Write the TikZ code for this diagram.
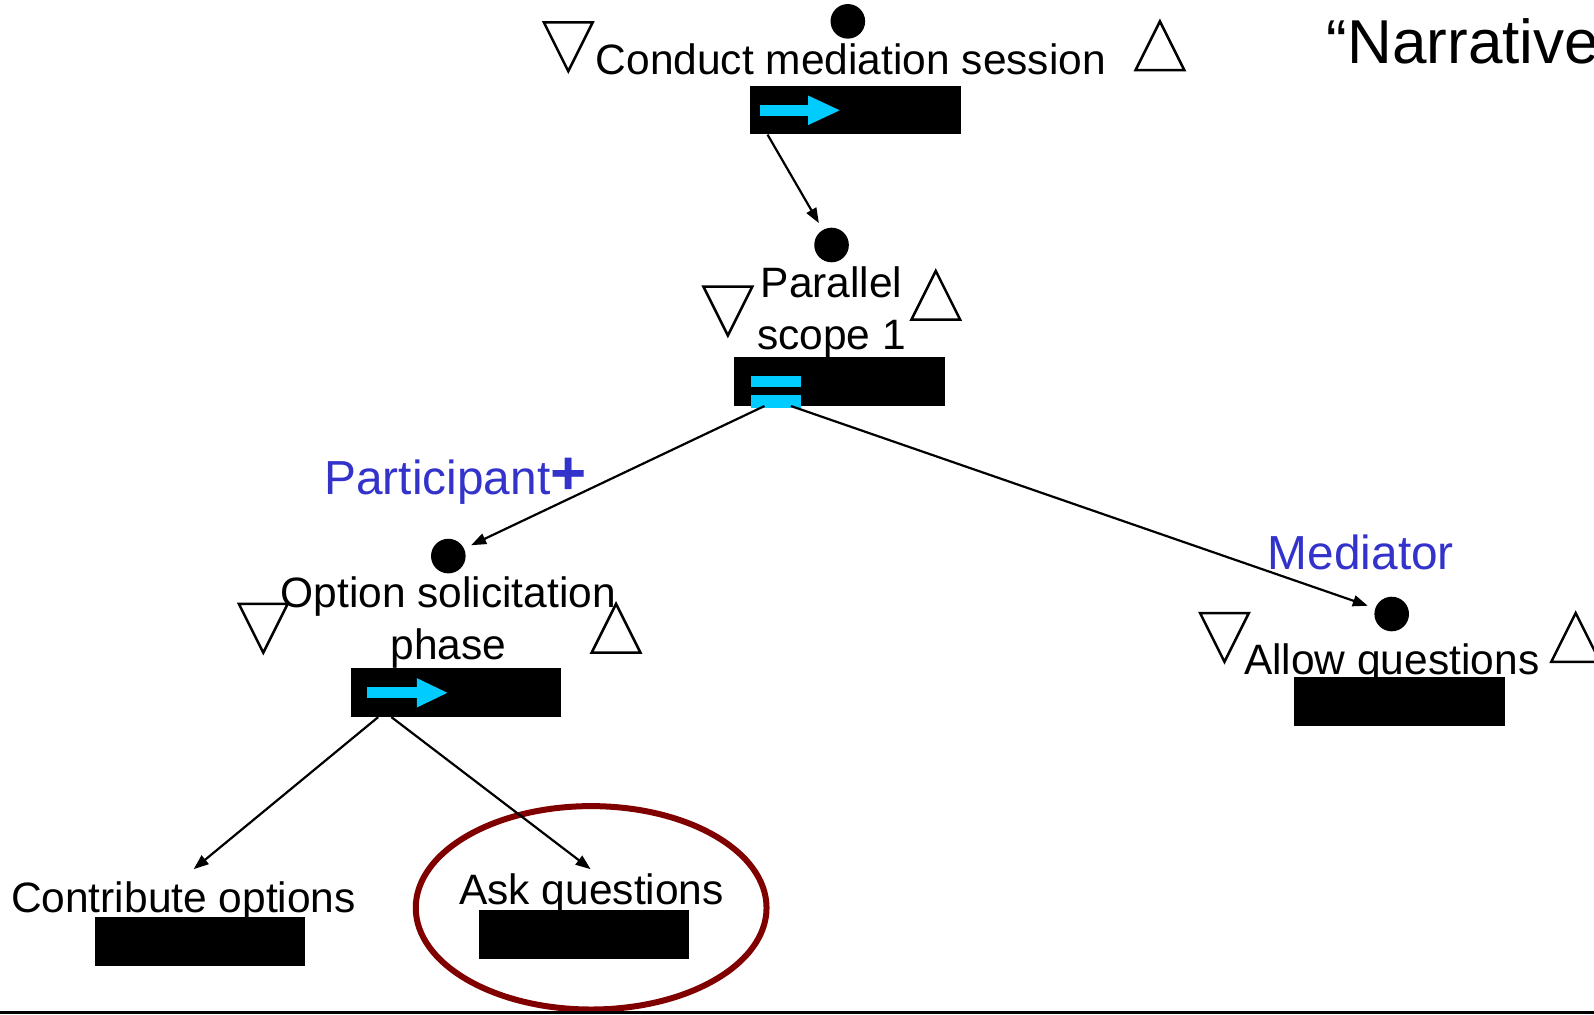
\documentclass[tikz,border=0pt]{standalone}
\usepackage{fontspec}
\setmainfont{Liberation Sans}
\usetikzlibrary{arrows.meta,calc}
\definecolor{rolecol}{RGB}{51,51,204}
\definecolor{markcol}{RGB}{0,204,255}
\definecolor{ringcol}{RGB}{128,0,0}

\tikzset{
  lbl/.style={inner sep=0pt, font=\fontsize{42.5}{51.8}\selectfont},
  role/.style={inner sep=0pt, text=rolecol, font=\fontsize{47.8}{56}\selectfont},
  dot/.style={circle, fill=black, minimum size=34.6pt, inner sep=0pt, outer sep=8pt},
  bar/.style={fill=black, anchor=north west, minimum width=210.4pt, minimum height=48.8pt, inner sep=0pt},
  conn/.style={line width=2.2pt, -{Triangle[length=15pt,width=11pt]}},
  tri/.style={line width=2.5pt, line join=miter},
  downtri/.pic={\draw[tri] (-24,-24) -- (24,-24) -- (0,24) -- cycle;},
  uptri/.pic={\draw[tri] (-24,24) -- (24,24) -- (0,-24) -- cycle;},
}

\begin{document}
\begin{tikzpicture}[x=1.0166pt,y=-1.0166pt]
\useasboundingbox (0,0) rectangle (1568,998);

% title
\node[inner sep=0pt, font=\fontsize{62}{70}\selectfont, anchor=base west] (title) at (1305,62) {“Narrative};

% ring around the highlighted step
\draw[ringcol, line width=6pt] (581.5,893) ellipse [x radius=175.4pt, y radius=101.7pt];

% step labels
\node[lbl, anchor=base] (t1) at (837,73) {Conduct mediation session};
\node[lbl, anchor=north, align=center] (t2) at (818,262) {Parallel\\scope 1};
\node[lbl, anchor=north, align=center] (t3) at (441,567) {Option solicitation\\phase};
\node[lbl, anchor=base] (t4) at (1369,663) {Allow questions};
\node[lbl, anchor=base] (t5) at (180.5,898) {Contribute options};
\node[lbl, anchor=base] (t6) at (582,890) {Ask questions};

% role labels
\node[role, anchor=base west] (r1) at (319,486) {Participant{\fontsize{62}{62}\selectfont\bfseries +}};
\node[role, anchor=base west] (r2) at (1247,560) {Mediator};

% entry dots
\node[dot] (d1) at (834,21) {};
\node[dot] (d2) at (818,241) {};
\node[dot] (d3) at (441,547) {};
\node[dot] (d4) at (1369,604) {};

% pre/post condition triangles
\pic at (559,46) {downtri};
\pic at (1141,45) {uptri};
\pic at (716,306) {downtri};
\pic at (920.5,290.5) {uptri};
\pic at (259,618) {downtri};
\pic at (606,618) {uptri};
\pic at (1204.5,627) {downtri};
\pic at (1550,627) {uptri};

% black bars
\node[bar] (b1) at (738,84) {};
\node[bar] (b2) at (722,351) {};
\node[bar] (b3) at (345,657) {};
\node[bar] (b4) at (1273,666) {};
\node[bar] (b5) at (93,902) {};
\node[bar] (b6) at (471,895) {};

% sequence arrows
\fill[markcol] ($(b1.north west)+(10,19)$) rectangle ++(47,11);
\fill[markcol] ($(b1.north west)+(57,10)$) -- ++(31,14.5) -- ++(-31,14.5) -- cycle;
\fill[markcol] ($(b3.north west)+(16,19)$) rectangle ++(49,11);
\fill[markcol] ($(b3.north west)+(65,10)$) -- ++(30,14.5) -- ++(-30,14.5) -- cycle;
% parallel mark
\fill[markcol] ($(b2.north west)+(17,19)$) rectangle ++(49,11);
\fill[markcol] ($(b2.north west)+(17,38)$) rectangle ++(49,12);

% connectors
\draw[conn] ($(b1.south west)+(17,0)$) -- (d2);
\draw[conn] ($(b2.south west)+(30,0)$) -- (d3);
\draw[conn] ($(b2.south west)+(56,0)$) -- (d4);
\draw[conn] ($(b3.south west)+(27,0)$) -- ($(t5.base)+(10,-43)$);
\draw[conn] ($(b3.south west)+(40,0)$) -- ($(t6.base)+(-1,-35)$);

% bottom rule
\draw[line width=3pt] (0,995.5) -- (1568,995.5);
\end{tikzpicture}
\end{document}
